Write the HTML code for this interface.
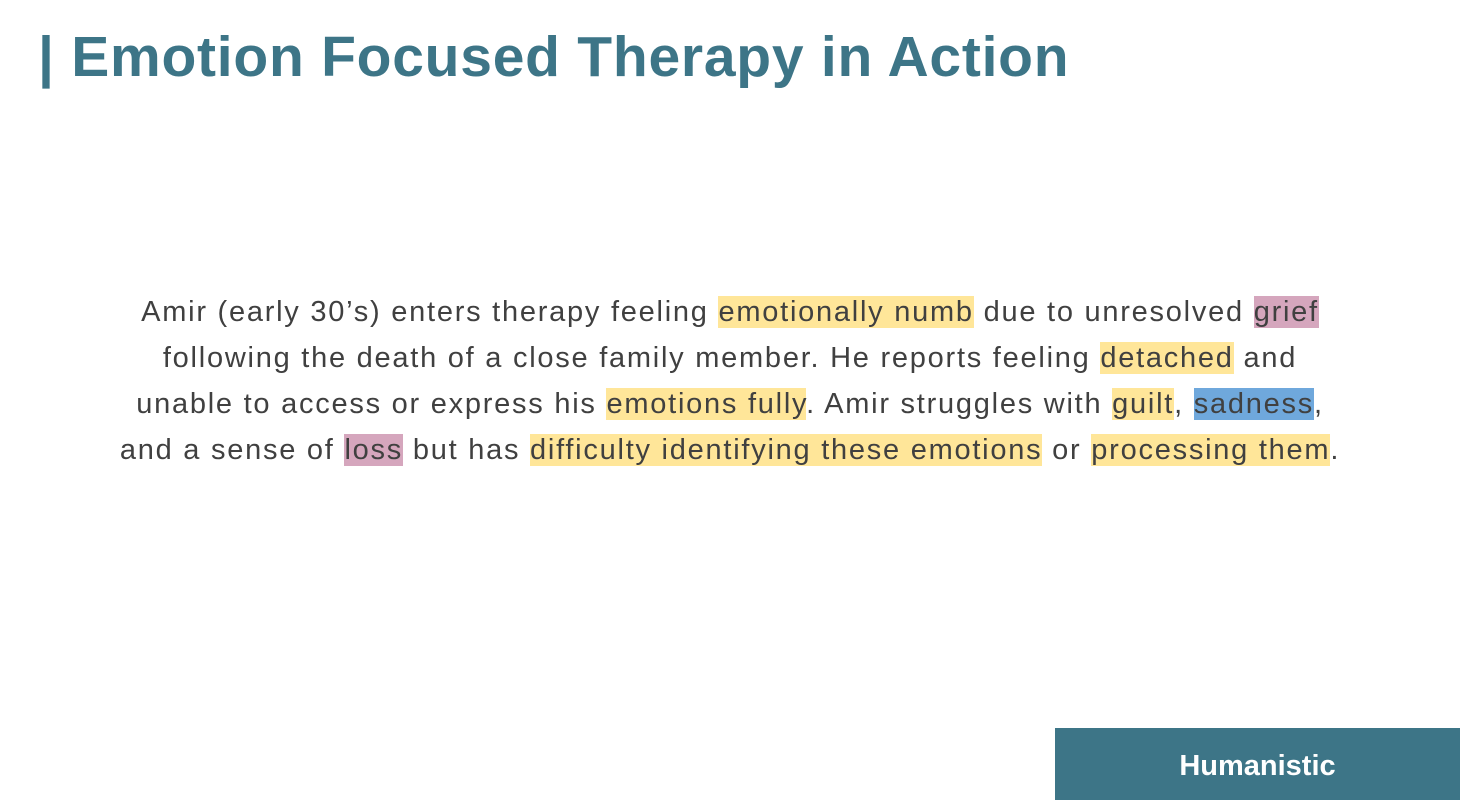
<!DOCTYPE html>
<html><head><style>
body{margin:0;width:1460px;height:805px;background:#fff;position:relative;overflow:hidden;font-family:"Liberation Sans",sans-serif;}
.t{position:absolute;left:38px;top:24px;font-size:57px;font-weight:bold;color:#3D7587;white-space:nowrap;letter-spacing:0.75px;}
.l{position:absolute;left:0;width:1460px;text-align:center;font-size:29px;letter-spacing:1.75px;color:#404040;white-space:nowrap;height:46px;line-height:31px;}
.y{background:#FFE699}.p{background:#D5A6BD}.b{background:#6FA8DC}
.btn{position:absolute;left:1055px;top:728px;width:405px;height:72px;background:#3D7587;color:#fff;font-weight:bold;font-size:29px;line-height:76px;text-align:center;}
</style></head><body>
<div class="t">| Emotion Focused Therapy in Action</div>
<div class="l" style="top:297px">Amir (early 30’s) enters therapy feeling <span class="y">emotionally numb</span> due to unresolved <span class="p">grief</span></div>
<div class="l" style="top:343px">following the death of a close family member. He reports feeling <span class="y">detached</span> and</div>
<div class="l" style="top:389px">unable to access or express his <span class="y">emotions fully</span>. Amir struggles with <span class="y">guilt</span>, <span class="b">sadness</span>,</div>
<div class="l" style="top:435px">and a sense of <span class="p">loss</span> but has <span class="y">difficulty identifying these emotions</span> or <span class="y">processing them</span>.</div>
<div class="btn">Humanistic</div>
</body></html>
